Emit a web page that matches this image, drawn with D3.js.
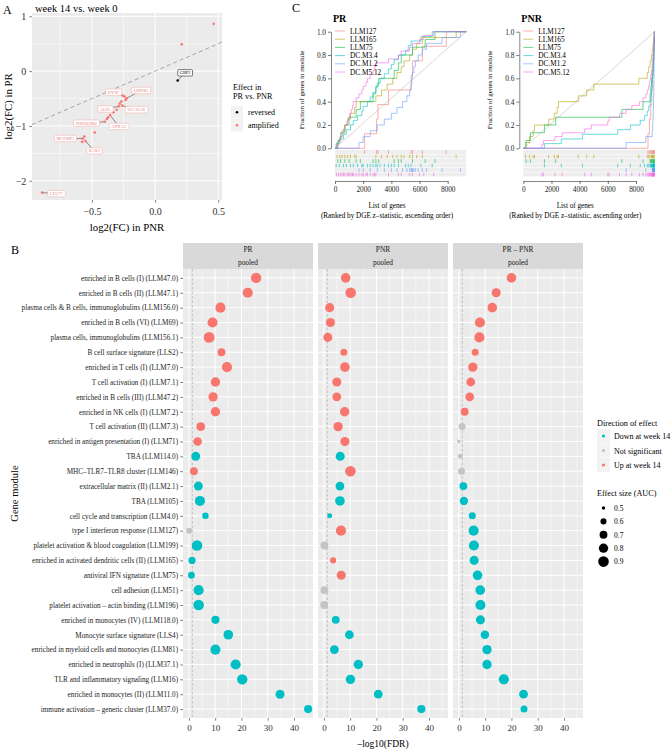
<!DOCTYPE html>
<html>
<head>
<meta charset="utf-8">
<script src="https://cdn.jsdelivr.net/npm/d3@7"></script>
<style>
  body { margin: 0; background: #fff; }
  svg { display: block; font-family: "Liberation Serif", serif; }
</style>
</head>
<body>
<svg id="fig" width="672" height="751"></svg>
<script>

// ---------------- data: panel A ----------------
var aGenes  = ["", "", "GBP2", "DYSF", "LMNB1", "", "", "", "", "ALPL", "SLC26A8", "", "", "ANXA3", "", "", "SHROOM4", "", "", "MCEMP1", "", "IL1R2", "CD177"];
var aPNR    = [0.464, 0.211, 0.179, -0.257, -0.225, -0.243, -0.235, -0.267, -0.280, -0.288, -0.261, -0.304, -0.330, -0.356, -0.372, -0.383, -0.399, -0.478, -0.560, -0.573, -0.578, -0.552, -0.895];
var aPR     = [0.862, 0.490, -0.171, -0.446, -0.495, -0.464, -0.527, -0.556, -0.593, -0.642, -0.629, -0.703, -0.752, -0.802, -0.844, -0.875, -0.923, -1.119, -1.193, -1.229, -1.290, -1.272, -2.215];
var aEffect = ["amplified", "amplified", "reversed", "amplified", "amplified", "amplified", "amplified", "amplified", "amplified", "amplified", "amplified", "amplified", "amplified", "amplified", "amplified", "amplified", "amplified", "amplified", "amplified", "amplified", "amplified", "amplified", "amplified"];
var aTicksX = [-0.5, 0, 0.5];
var aTicksY = [-2, -1, 0, 1];

// ---------------- data: panel B ----------------
var modules = [
  "enriched in B cells (I) (LLM47.0)",
  "enriched in B cells (II) (LLM47.1)",
  "plasma cells & B cells, immunoglobulins (LLM156.0)",
  "enriched in B cells (VI) (LLM69)",
  "plasma cells, immunoglobulins (LLM156.1)",
  "B cell surface signature (LLS2)",
  "enriched in T cells (I) (LLM7.0)",
  "T cell activation (I) (LLM7.1)",
  "enriched in B cells (III) (LLM47.2)",
  "enriched in NK cells (I) (LLM7.2)",
  "T cell activation (II) (LLM7.3)",
  "enriched in antigen presentation (I) (LLM71)",
  "TBA (LLM114.0)",
  "MHC\u2013TLR7\u2013TLR8 cluster (LLM146)",
  "extracellular matrix (II) (LLM2.1)",
  "TBA (LLM105)",
  "cell cycle and transcription (LLM4.0)",
  "type I interferon response (LLM127)",
  "platelet activation & blood coagulation (LLM199)",
  "enriched in activated dendritic cells (II) (LLM165)",
  "antiviral IFN signature (LLM75)",
  "cell adhesion (LLM51)",
  "platelet activation \u2013 actin binding (LLM196)",
  "enriched in monocytes (IV) (LLM118.0)",
  "Monocyte surface signature (LLS4)",
  "enriched in myeloid cells and monocytes (LLM81)",
  "enriched in neutrophils (I) (LLM37.1)",
  "TLR and inflammatory signaling (LLM16)",
  "enriched in monocytes (II) (LLM11.0)",
  "immune activation \u2013 generic cluster (LLM37.0)"
];
var contrasts = ["PR", "PNR", "PR \u2013 PNR"];
var fdrPR  = [25.6, 22.4, 12.0, 9.0, 7.7, 12.4, 14.5, 10.1, 9.2, 10.1, 4.5, 3.3, 2.6, 1.9, 3.6, 4.2, 6.3, 0.1, 3.1, 1.2, 0.95, 3.7, 3.7, 10.1, 15.0, 10.1, 17.8, 20.3, 34.7, 45.4];
var dirPR  = ["up","up","up","up","up","up","up","up","up","up","up","up","down","up","down","down","down","ns","down","down","down","down","down","down","down","down","down","down","down","down"];
var aucPR  = [0.88, 0.86, 0.86, 0.86, 0.92, 0.70, 0.86, 0.80, 0.80, 0.80, 0.77, 0.75, 0.77, 0.70, 0.77, 0.86, 0.62, 0.60, 0.90, 0.66, 0.64, 0.86, 0.90, 0.72, 0.82, 0.86, 0.86, 0.88, 0.78, 0.72];
var fdrPNR = [8.3, 10.2, 2.2, 2.5, 1.5, 7.6, 8.0, 4.9, 4.9, 7.9, 5.4, 8.0, 6.2, 10.1, 6.1, 6.1, 2.2, 6.5, 0.2, 3.5, 6.6, 0.2, 0.1, 4.5, 9.7, 4.0, 13.1, 10.1, 20.7, 37.1];
var dirPNR = ["up","up","up","up","up","up","up","up","up","up","up","up","down","up","down","down","down","up","ns","up","up","ns","ns","down","down","down","down","down","down","down"];
var aucPNR = [0.82, 0.90, 0.78, 0.78, 0.78, 0.65, 0.82, 0.78, 0.76, 0.80, 0.80, 0.78, 0.78, 0.90, 0.76, 0.82, 0.55, 0.86, 0.70, 0.60, 0.78, 0.70, 0.70, 0.70, 0.76, 0.76, 0.80, 0.80, 0.76, 0.72];
var fdrDiff = [20.0, 14.2, 12.7, 8.0, 7.8, 6.2, 5.3, 4.5, 4.1, 2.2, 1.2, 0.0, 0.5, 1.0, 1.7, 1.9, 5.1, 5.6, 5.7, 5.8, 7.1, 8.1, 8.2, 8.2, 9.9, 10.7, 10.7, 17.1, 24.6, 24.8];
var dirDiff = ["up","up","up","up","up","up","up","up","up","up","ns","ns","ns","ns","down","down","down","down","down","down","down","down","down","down","down","down","down","down","down","down"];
var aucDiff = [0.82, 0.78, 0.82, 0.86, 0.86, 0.65, 0.80, 0.76, 0.76, 0.70, 0.65, 0.50, 0.55, 0.65, 0.70, 0.73, 0.65, 0.86, 0.86, 0.78, 0.82, 0.82, 0.86, 0.78, 0.74, 0.80, 0.80, 0.86, 0.76, 0.65];
var bTicks = [0, 10, 20, 30, 40];
var bMinor = [5, 15, 25, 35, 45];
var dirLevels = ["down", "ns", "up"];
var dirLabels = ["Down at week 14", "Not significant", "Up at week 14"];
var aucLegend = [0.5, 0.6, 0.7, 0.8, 0.9];

// ---------------- data: panel C ----------------
var nGenes = 9320;
var cModules = ["LLM127", "LLM165", "LLM75", "DC.M3.4", "DC.M1.2", "DC.M5.12"];
var prRanks = [
  [2100, 2950, 3050, 3800, 5400, 5500, 6200, 7900],
  [150, 350, 500, 700, 900, 1100, 1400, 1500, 2900, 3300, 3700, 4100, 4400, 4700, 4900, 5300, 5500, 5800, 6200, 8600],
  [200, 400, 700, 1000, 1500, 1800, 2700, 2900, 3100, 4200, 4500, 4700, 5500, 6400, 7100],
  [80, 300, 600, 800, 1100, 1300, 1600, 1900, 2000, 2300, 2500, 2700, 2900, 3000, 3200, 3500, 3800, 4000, 4200, 4500, 5000, 5200, 5400, 6100, 6900],
  [1700, 2000, 2500, 3000, 3500, 4000, 4400, 4800, 5100, 5300, 5400, 5450, 5500, 5600, 5700, 5900, 6200, 6500, 7600, 8900],
  [100, 250, 400, 500, 600, 700, 850, 950, 1050, 1150, 1250, 1300, 1500, 1700, 1900, 2000, 2200, 2300, 2500, 2700, 2800, 2900, 3800, 4500, 4700, 5300, 5500, 6000, 6300, 7000]
];
var pnrRanks = [
  [8850, 8950, 9050, 9120, 9180, 9230, 9270, 9300],
  [150, 450, 700, 800, 1800, 2200, 2400, 2500, 3900, 4500, 5000, 8200, 8800, 8900, 9000, 9100, 9150, 9200, 9250, 9300],
  [200, 500, 1500, 2300, 7000, 8500, 9000, 9050, 9100, 9150, 9200, 9230, 9260, 9280, 9300],
  [1500, 2700, 4200, 6700, 7600, 8300, 8600, 8800, 8900, 9000, 9050, 9080, 9110, 9140, 9170, 9190, 9210, 9230, 9250, 9260, 9270, 9280, 9290, 9300, 9310],
  [7300, 8700, 9150, 9180, 9200, 9220, 9230, 9240, 9250, 9260, 9265, 9270, 9275, 9280, 9285, 9290, 9295, 9300, 9305, 9310],
  [1330, 1430, 2240, 2760, 4360, 4830, 6000, 6100, 6830, 7300, 7700, 8240, 8500, 8700, 8800, 8900, 8950, 9000, 9050, 9100, 9130, 9160, 9190, 9210, 9230, 9250, 9270, 9285, 9295, 9300]
];
var cTicksX = [0, 2000, 4000, 6000, 8000];
var cTicksY = [0, 0.2, 0.4, 0.6, 0.8, 1.0];

// ---------------- styles / layout ----------------
var hue = { up: "#F8766D", down: "#00BFC4", ns: "#C4C4C4", amplified: "#F8766D", reversed: "#000000" };
var cColors = ["#F8766D", "#B79F00", "#00BA38", "#00BFC4", "#619CFF", "#F564E3"];
var gridBg = "#EBEBEB";
var axisText = "#333333";

var svg = d3.select("#fig");

function txt(g, x, y, s, size, opts) {
  opts = opts || {};
  var t = g.append("text")
    .attr("x", x).attr("y", y)
    .attr("font-size", size)
    .attr("fill", opts.fill || "#000")
    .attr("text-anchor", opts.anchor || "start")
    .text(s);
  if (opts.weight) t.attr("font-weight", opts.weight);
  if (opts.rotate) t.attr("transform", "rotate(-90," + x + "," + y + ")");
  return t;
}

function styleAxis(sel, size, color) {
  sel.selectAll("text").attr("font-size", size).attr("fill", color).attr("font-family", "Liberation Serif, serif");
  sel.selectAll("line").attr("stroke", color).attr("stroke-width", 0.6);
}

// =============== Panel A ===============
(function () {
  var L = 32, R = 222, T = 13, Bt = 200;
  var x = d3.scaleLinear().domain([-0.975, 0.53]).range([L, R]);
  var y = d3.scaleLinear().domain([-2.35, 1.06]).range([Bt, T]);
  var g = svg.append("g");

  txt(g, 3, 14, "A", 12);
  txt(g, 35, 12, "week 14 vs. week 0", 10.5);

  g.append("rect").attr("x", L).attr("y", T).attr("width", R - L).attr("height", Bt - T).attr("fill", gridBg);

  var minorX = [-0.75, -0.25, 0.25], minorY = [-1.5, -0.5, 0.5];
  g.selectAll(".mx").data(minorX).enter().append("line")
    .attr("x1", x).attr("x2", x).attr("y1", T).attr("y2", Bt)
    .attr("stroke", "#fff").attr("stroke-width", 0.5);
  g.selectAll(".my").data(minorY).enter().append("line")
    .attr("y1", y).attr("y2", y).attr("x1", L).attr("x2", R)
    .attr("stroke", "#fff").attr("stroke-width", 0.5);
  g.selectAll(".gx").data(aTicksX).enter().append("line")
    .attr("x1", x).attr("x2", x).attr("y1", T).attr("y2", Bt)
    .attr("stroke", "#fff").attr("stroke-width", 1);
  g.selectAll(".gy").data(aTicksY).enter().append("line")
    .attr("y1", y).attr("y2", y).attr("x1", L).attr("x2", R)
    .attr("stroke", "#fff").attr("stroke-width", 1);

  // identity line
  var d0 = x.domain();
  g.append("line")
    .attr("x1", x(d0[0])).attr("y1", y(d0[0]))
    .attr("x2", x(d0[1])).attr("y2", y(d0[1]))
    .attr("stroke", "#9a9a9a").attr("stroke-width", 0.9).attr("stroke-dasharray", "4,3");

  var pts = aGenes.map(function (gname, i) {
    return { gene: gname, pnr: aPNR[i], pr: aPR[i], effect: aEffect[i] };
  });

  // label placement (ggrepel result, in data units)
  var repel = {
    GBP2: [0.238, -0.031], DYSF: [-0.330, -0.385], LMNB1: [-0.111, -0.354],
    ALPL: [-0.394, -0.692], SLC26A8: [-0.150, -0.703], SHROOM4: [-0.546, -0.949],
    ANXA3: [-0.288, -1.009], MCEMP1: [-0.710, -1.229], IL1R2: [-0.481, -1.455],
    CD177: [-0.784, -2.233]
  };
  var labelled = pts.filter(function (d) { return d.gene !== ""; });

  g.selectAll(".seg").data(labelled).enter().append("line")
    .attr("x1", function (d) { return x(repel[d.gene][0]); })
    .attr("y1", function (d) { return y(repel[d.gene][1]); })
    .attr("x2", function (d) { return x(d.pnr); })
    .attr("y2", function (d) { return y(d.pr); })
    .attr("stroke", "#444").attr("stroke-width", 0.6);

  g.selectAll(".pt").data(pts).enter().append("circle")
    .attr("cx", function (d) { return x(d.pnr); })
    .attr("cy", function (d) { return y(d.pr); })
    .attr("r", 1.3)
    .attr("fill", function (d) { return hue[d.effect]; });

  labelled.forEach(function (d) {
    var cx = x(repel[d.gene][0]), cy = y(repel[d.gene][1]);
    var lg = g.append("g");
    var box = lg.append("rect");
    var t = lg.append("text")
      .attr("x", cx).attr("y", cy + 1.5)
      .attr("text-anchor", "middle")
      .attr("font-size", 4.4)
      .attr("fill", d.effect === "reversed" ? "#000" : "#E8857E")
      .text(d.gene);
    var bb = t.node().getBBox();
    box.attr("x", bb.x - 2).attr("y", cy - 3.2).attr("width", bb.width + 4).attr("height", 6.4)
      .attr("rx", 1).attr("fill", "#fff")
      .attr("stroke", d.effect === "reversed" ? "#000" : "#F2A9A3").attr("stroke-width", 0.5);
  });

  var ax = g.append("g").attr("transform", "translate(0," + Bt + ")")
    .call(d3.axisBottom(x).tickValues(aTicksX).tickSize(2.7).tickPadding(5).tickFormat(d3.format(".1f")));
  ax.select(".domain").remove();
  styleAxis(ax, 10, axisText);

  var ay = g.append("g").attr("transform", "translate(" + L + ",0)")
    .call(d3.axisLeft(y).tickValues(aTicksY).tickSize(2.7).tickPadding(3).tickFormat(d3.format("d")));
  ay.select(".domain").remove();
  styleAxis(ay, 10, axisText);

  txt(g, (L + R) / 2, 231, "log2(FC) in PNR", 10.8, { anchor: "middle" });
  txt(g, 12, (T + Bt) / 2, "log2(FC) in PR", 10.8, { anchor: "middle", rotate: true });

  // legend
  txt(g, 233, 90, "Effect in", 8.2);
  txt(g, 233, 99, "PR vs. PNR", 8.2);
  ["reversed", "amplified"].forEach(function (k, i) {
    var ky = 106 + i * 13;
    g.append("rect").attr("x", 231).attr("y", ky).attr("width", 12).attr("height", 12.5).attr("fill", "#F2F2F2");
    g.append("circle").attr("cx", 237).attr("cy", ky + 6.2).attr("r", 1.3).attr("fill", hue[k]);
    txt(g, 248, ky + 9, k, 8);
  });
})();

// =============== Panel B ===============
(function () {
  var T = 269, Bt = 718, W = 130, stripTop = 243;
  var lefts = [183, 318, 453];
  var y = d3.scalePoint().domain(modules).range([T, Bt]).padding(0.6);
  var area = d3.scaleLinear().domain([0.5, 0.9]).range([2.9, 28.1]);
  function rad(a) { return Math.sqrt(Math.max(area(a), 0.5)); }

  var series = [
    { fdr: fdrPR, dir: dirPR, auc: aucPR },
    { fdr: fdrPNR, dir: dirPNR, auc: aucPNR },
    { fdr: fdrDiff, dir: dirDiff, auc: aucDiff }
  ];

  var g = svg.append("g");
  txt(g, 11, 254, "B", 12);

  contrasts.forEach(function (c, k) {
    var L = lefts[k];
    var x = d3.scaleLinear().domain([-2.25, 47.25]).range([L, L + W]);
    var pg = g.append("g");

    pg.append("rect").attr("x", L).attr("y", stripTop).attr("width", W).attr("height", T - stripTop).attr("fill", "#D9D9D9");
    txt(pg, L + W / 2, 252, c, 7.4, { anchor: "middle", fill: "#1A1A1A" });
    txt(pg, L + W / 2, 265, "pooled", 7.4, { anchor: "middle", fill: "#1A1A1A" });

    pg.append("rect").attr("x", L).attr("y", T).attr("width", W).attr("height", Bt - T).attr("fill", gridBg);
    pg.selectAll(".mn").data(bMinor).enter().append("line")
      .attr("x1", x).attr("x2", x).attr("y1", T).attr("y2", Bt)
      .attr("stroke", "#fff").attr("stroke-width", 0.5);
    pg.selectAll(".mj").data(bTicks).enter().append("line")
      .attr("x1", x).attr("x2", x).attr("y1", T).attr("y2", Bt)
      .attr("stroke", "#fff").attr("stroke-width", 1);
    pg.selectAll(".hy").data(modules).enter().append("line")
      .attr("y1", y).attr("y2", y).attr("x1", L).attr("x2", L + W)
      .attr("stroke", "#fff").attr("stroke-width", 1);

    pg.append("line")
      .attr("x1", x(-Math.log10(0.05))).attr("x2", x(-Math.log10(0.05)))
      .attr("y1", T).attr("y2", Bt)
      .attr("stroke", "#AFAFAF").attr("stroke-width", 0.7).attr("stroke-dasharray", "2.5,2");

    var s = series[k];
    var rows = modules.map(function (m, i) {
      return { m: m, v: s.fdr[i], dir: s.dir[i], auc: s.auc[i] };
    });
    pg.selectAll(".dot").data(rows).enter().append("circle")
      .attr("cx", function (d) { return x(d.v); })
      .attr("cy", function (d) { return y(d.m); })
      .attr("r", function (d) { return rad(d.auc); })
      .attr("fill", function (d) { return hue[d.dir]; });

    var ax = pg.append("g").attr("transform", "translate(0," + Bt + ")")
      .call(d3.axisBottom(x).tickValues(bTicks).tickSize(2.7).tickPadding(4));
    ax.select(".domain").remove();
    styleAxis(ax, 9, axisText);

    if (k === 0) {
      var ay = pg.append("g").attr("transform", "translate(" + L + ",0)")
        .call(d3.axisLeft(y).tickSize(2.7).tickPadding(2.2));
      ay.select(".domain").remove();
      styleAxis(ay, 7.2, "#222");
    }
  });

  txt(g, (lefts[0] + lefts[2] + W) / 2, 747, "\u2013log10(FDR)", 9.5, { anchor: "middle" });
  txt(g, 18, (T + Bt) / 2, "Gene module", 10.5, { anchor: "middle", rotate: true });

  // legends
  txt(g, 597, 426, "Direction of effect", 8.2);
  dirLevels.forEach(function (k, i) {
    var ky = 429 + i * 14.5;
    g.append("rect").attr("x", 597).attr("y", ky).attr("width", 13).attr("height", 14).attr("fill", "#F2F2F2");
    g.append("circle").attr("cx", 603.5).attr("cy", ky + 7).attr("r", 1.6).attr("fill", hue[k]);
    txt(g, 614, ky + 10, dirLabels[i], 8);
  });
  txt(g, 597, 496, "Effect size (AUC)", 8.2);
  aucLegend.forEach(function (a, i) {
    var ky = 508 + i * 13.4;
    g.append("circle").attr("cx", 603.5).attr("cy", ky).attr("r", rad(a)).attr("fill", "#000");
    txt(g, 614, ky + 2.7, d3.format(".1f")(a), 7.5);
  });
})();

// =============== Panel C ===============
function evidencePlot(title, ranks, left) {
  var g = svg.append("g");
  var x = d3.scaleLinear().domain([0, 8000]).range([left, left + 112.7]);
  var y = d3.scaleLinear().domain([0, 1]).range([148.3, 31.7]);

  txt(g, left - 2, 22, title, 10, { weight: "bold" });

  // diagonal reference
  g.append("line")
    .attr("x1", x(0)).attr("y1", y(0)).attr("x2", x(nGenes)).attr("y2", y(1))
    .attr("stroke", "#D2D2D2").attr("stroke-width", 0.9);

  var line = d3.line()
    .x(function (d) { return x(d[0]); })
    .y(function (d) { return y(d[1]); })
    .curve(d3.curveStepAfter);

  ranks.forEach(function (r, i) {
    var n = r.length;
    var pts = [[0, 0]];
    r.forEach(function (v, j) { pts.push([v, (j + 1) / n]); });
    pts.push([nGenes, 1]);
    g.append("path").attr("d", line(pts))
      .attr("fill", "none").attr("stroke", cColors[i])
      .attr("stroke-width", 0.9).attr("stroke-opacity", 0.65);
  });

  // barcode rows
  var rowH = 4.5, rugTop = 150;
  ranks.forEach(function (r, i) {
    var ry = rugTop + i * rowH;
    g.append("rect").attr("x", x(0)).attr("y", ry).attr("width", x(nGenes) - x(0)).attr("height", rowH - 0.6)
      .attr("fill", "#EEEEEE");
    g.selectAll(".rug" + i).data(r).enter().append("line")
      .attr("x1", x).attr("x2", x)
      .attr("y1", ry + 0.2).attr("y2", ry + rowH - 0.6)
      .attr("stroke", cColors[i]).attr("stroke-width", 0.8).attr("stroke-opacity", 0.75);
  });

  // legend
  cModules.forEach(function (m, i) {
    var ly = 31 + i * 8.2;
    g.append("line").attr("x1", left).attr("x2", left + 10).attr("y1", ly).attr("y2", ly)
      .attr("stroke", cColors[i]).attr("stroke-width", 0.9).attr("stroke-opacity", 0.65);
    txt(g, left + 15, ly + 2.5, m, 7.3);
  });

  var ay = g.append("g").attr("transform", "translate(" + (left - 4) + ",0)")
    .call(d3.axisLeft(y).tickValues(cTicksY).tickSize(3).tickSizeOuter(0).tickPadding(2).tickFormat(d3.format(".1f")));
  ay.select(".domain").attr("stroke", "#333").attr("stroke-width", 0.6);
  styleAxis(ay, 7.3, "#222");

  var ax = g.append("g").attr("transform", "translate(0,181)")
    .call(d3.axisBottom(x).tickValues(cTicksX).tickSize(3).tickSizeOuter(0).tickPadding(3).tickFormat(d3.format("d")));
  ax.select(".domain").attr("stroke", "#333").attr("stroke-width", 0.6);
  styleAxis(ax, 7.3, "#222");

  txt(g, left - 31, 90, "Fraction of genes in module", 7, { anchor: "middle", rotate: true });
  txt(g, left + 52, 207.5, "List of genes", 7.2, { anchor: "middle" });
  txt(g, left + 52, 217.5, "(Ranked by DGE z\u2013statistic, ascending order)", 7.2, { anchor: "middle" });
}

txt(svg, 292, 12, "C", 12);
evidencePlot("PR", prRanks, 335);
evidencePlot("PNR", pnrRanks, 523.3);

</script>
</body>
</html>
